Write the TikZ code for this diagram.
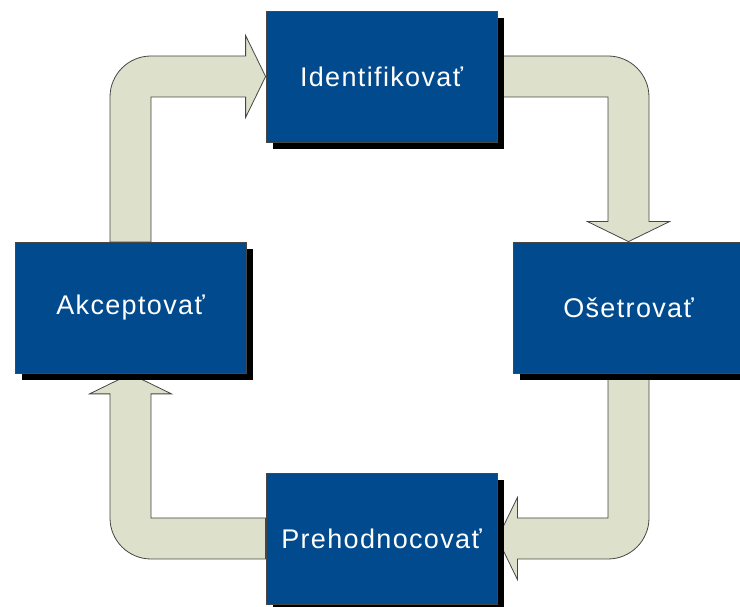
\documentclass[tikz,border=0pt]{standalone}
\usepackage{fontspec}
\setmainfont{Liberation Sans}
\newfontfamily\stagefont[LetterSpace=5]{Liberation Sans}
\usetikzlibrary{calc,shadows,backgrounds}

\definecolor{boxblue}{RGB}{0,74,141}
\definecolor{arrowfill}{RGB}{221,224,202}
\definecolor{edgegray}{RGB}{70,70,70}

\tikzset{
  x=1pt, y=1pt,
  stage/.style={
    rectangle, fill=boxblue, draw=edgegray, line width=0.8pt,
    minimum width=231pt, minimum height=131pt, inner sep=0pt,
    text=white, font=\stagefont\fontsize{27}{32}\selectfont,
    general shadow={fill=black, shadow xshift=7pt, shadow yshift=-7pt}
  },
  blockarrow/.style={fill=arrowfill, draw=edgegray, line width=0.8pt, line join=miter}
}

\begin{document}
\begin{tikzpicture}
  \useasboundingbox (0,0) rectangle (740,607);

  % the four stages of the cycle
  \node[stage] (ident) at (381.5,530.5) {Identifikovať};
  \node[stage] (oset)  at (628.5,299.5) {Ošetrovať};
  \node[stage] (preh)  at (381.5,68.5)  {Prehodnocovať};
  \node[stage] (akc)   at (130.5,299)   {Akceptovať};

  % wide L-shaped arrows behind the boxes
  % shaft half width 20.5pt, head half width 41pt, head length 20pt, bend radius 41pt
  \begin{scope}[on background layer]
    % Akceptovat -> Identifikovat : up, then right
    \draw[blockarrow] let \p1=(akc.north), \p2=(ident.west) in
      (\x1-20.5pt,\y1) -- (\x1-20.5pt,\y2+20.5pt-41pt)
      arc[start angle=180, end angle=90, radius=41pt]
      -- (\x2-20pt,\y2+20.5pt) -- (\x2-20pt,\y2+41pt) -- (\x2,\y2)
      -- (\x2-20pt,\y2-41pt) -- (\x2-20pt,\y2-20.5pt)
      -- (\x1+20.5pt,\y2-20.5pt) -- (\x1+20.5pt,\y1) -- cycle;

    % Identifikovat -> Osetrovat : right, then down
    \draw[blockarrow] let \p1=(ident.east), \p2=(oset.north) in
      (\x1,\y1+20.5pt) -- (\x2+20.5pt-41pt,\y1+20.5pt)
      arc[start angle=90, end angle=0, radius=41pt]
      -- (\x2+20.5pt,\y2+20pt) -- (\x2+41pt,\y2+20pt) -- (\x2,\y2)
      -- (\x2-41pt,\y2+20pt) -- (\x2-20.5pt,\y2+20pt)
      -- (\x2-20.5pt,\y1-20.5pt) -- (\x1,\y1-20.5pt) -- cycle;

    % Osetrovat -> Prehodnocovat : down, then left
    \draw[blockarrow] let \p1=(oset.south), \p2=(preh.east) in
      (\x1+20.5pt,\y1) -- (\x1+20.5pt,\y2-20.5pt+41pt)
      arc[start angle=0, end angle=-90, radius=41pt]
      -- (\x2+20pt,\y2-20.5pt) -- (\x2+20pt,\y2-41pt) -- (\x2,\y2)
      -- (\x2+20pt,\y2+41pt) -- (\x2+20pt,\y2+20.5pt)
      -- (\x1-20.5pt,\y2+20.5pt) -- (\x1-20.5pt,\y1) -- cycle;

    % Prehodnocovat -> Akceptovat : left, then up
    \draw[blockarrow] let \p1=(preh.west), \p2=(akc.south) in
      (\x1,\y1-20.5pt) -- (\x2-20.5pt+41pt,\y1-20.5pt)
      arc[start angle=270, end angle=180, radius=41pt]
      -- (\x2-20.5pt,\y2-20pt) -- (\x2-41pt,\y2-20pt) -- (\x2,\y2)
      -- (\x2+41pt,\y2-20pt) -- (\x2+20.5pt,\y2-20pt)
      -- (\x2+20.5pt,\y1+20.5pt) -- (\x1,\y1+20.5pt) -- cycle;
  \end{scope}
\end{tikzpicture}
\end{document}
